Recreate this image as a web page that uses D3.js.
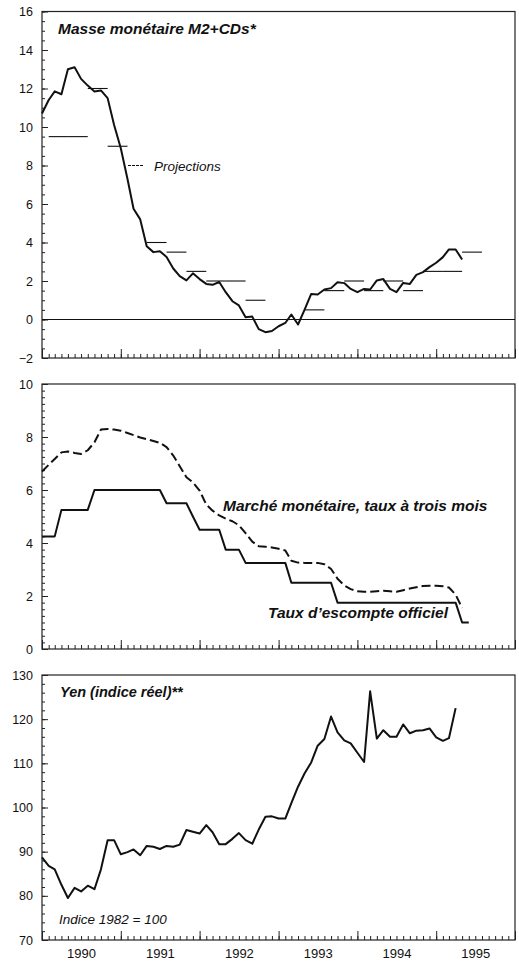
<!DOCTYPE html>
<meta charset="utf-8">
<style>
body { margin: 0; background: #fff; }
svg text { font-family: "Liberation Sans", Arial, Helvetica, sans-serif; fill: #111; }
.frame { fill: none; stroke: #222; stroke-width: 1.2px; }
.axis path { display: none; }
.axis line { stroke: #222; stroke-width: 1px; }
.axis text { font-size: 12.5px; }
.years text { font-size: 13px; }
.line { fill: none; stroke: #111; stroke-width: 2px; stroke-linejoin: round; }
.proj { stroke: #111; stroke-width: 1.1px; }
.title { font-size: 15.5px; font-weight: bold; font-style: italic; }
</style>
<body>
<script src="https://d3js.org/d3.v7.min.js"></script>
<script>

// monthly series, first value = January 1990
var m2Growth = [10.7, 11.4, 11.85, 11.7, 13.0, 13.1, 12.5, 12.15, 11.85, 11.9,
  11.5, 10.1, 8.9, 7.3, 5.75, 5.2, 3.8, 3.5, 3.55, 3.25,
  2.65, 2.25, 2.03, 2.4, 2.1, 1.85, 1.8, 1.95, 1.42, 0.95,
  0.73, 0.12, 0.15, -0.5, -0.66, -0.6, -0.35, -0.18, 0.26, -0.26,
  0.5, 1.33, 1.3, 1.56, 1.63, 1.94, 1.89, 1.59, 1.42, 1.59,
  1.56, 2.03, 2.1, 1.59, 1.42, 1.9, 1.85, 2.32, 2.46, 2.72,
  2.95, 3.24, 3.64, 3.64, 3.12];

// projections, one per quarter, quarters starting February 1990
var m2Projections = [9.5, 9.5, 12, 9, null, 4, 3.5, 2.5, 2, 2, 1, null,
  null, 0.5, 1.5, 2, 1.5, 2, 1.5, 2.5, 2.5, 3.5];

var discountRate = [4.25, 4.25, 4.25, 5.25, 5.25, 5.25, 5.25, 5.25, 6, 6,
  6, 6, 6, 6, 6, 6, 6, 6, 6, 5.5,
  5.5, 5.5, 5.5, 5, 4.5, 4.5, 4.5, 4.5, 3.75, 3.75,
  3.75, 3.25, 3.25, 3.25, 3.25, 3.25, 3.25, 3.25, 2.5, 2.5,
  2.5, 2.5, 2.5, 2.5, 2.5, 1.75, 1.75, 1.75, 1.75, 1.75,
  1.75, 1.75, 1.75, 1.75, 1.75, 1.75, 1.75, 1.75, 1.75, 1.75,
  1.75, 1.75, 1.75, 1.75, 1, 1];

var moneyMarket3m = [6.7, 6.95, 7.17, 7.42, 7.45, 7.4, 7.36, 7.5, 7.8, 8.28,
  8.3, 8.28, 8.24, 8.15, 8.07, 7.98, 7.92, 7.85, 7.78, 7.62,
  7.3, 6.9, 6.48, 6.29, 5.98, 5.45, 5.22, 5.04, 4.92, 4.82,
  4.67, 4.37, 4.05, 3.88, 3.86, 3.83, 3.78, 3.72, 3.33, 3.26,
  3.25, 3.25, 3.25, 3.2, 3.02, 2.65, 2.4, 2.26, 2.18, 2.16,
  2.16, 2.18, 2.2, 2.18, 2.16, 2.22, 2.28, 2.33, 2.38, 2.39,
  2.39, 2.37, 2.32, 2.05, 1.55];

var yenReal = [88.7, 86.8, 86.0, 82.5, 79.5, 81.8, 81.0, 82.3, 81.5, 86.0,
  92.6, 92.6, 89.4, 89.9, 90.5, 89.2, 91.3, 91.1, 90.6, 91.3,
  91.1, 91.6, 94.9, 94.5, 94.1, 96.0, 94.4, 91.7, 91.7, 92.9,
  94.2, 92.6, 91.8, 95.0, 97.9, 98.0, 97.5, 97.5, 101.0, 104.7,
  107.7, 110.2, 114.0, 115.5, 120.6, 117.0, 115.2, 114.5, 112.4, 110.3,
  126.3, 115.6, 117.5, 116.0, 116.0, 118.8, 116.8, 117.4, 117.5, 117.9,
  115.9, 115.1, 115.7, 122.5];

var yearLabels = ["1990", "1991", "1992", "1993", "1994", "1995"];

var width = 519, height = 961;
var left = 42, right = 515;

var svg = d3.select("body").append("svg")
    .attr("width", width)
    .attr("height", height);

var x = d3.scaleTime()
    .domain([new Date(1990, 0, 1), new Date(1996, 0, 1)])
    .range([left, right]);

function month(i) { return new Date(1990, i, 1); }

// draws frame, ticks and labels of one panel, returns its y scale
function panel(top, bottom, lo, hi, major, minor, showYears) {
  var y = d3.scaleLinear().domain([lo, hi]).range([bottom, top]);

  svg.append("rect").attr("class", "frame")
      .attr("x", left).attr("y", top)
      .attr("width", right - left).attr("height", bottom - top);

  // y ticks, inside the frame
  svg.append("g").attr("class", "axis")
      .attr("transform", "translate(" + left + ",0)")
      .call(d3.axisLeft(y).tickValues(d3.range(lo, hi + 0.001, minor))
        .tickSize(-3).tickSizeOuter(0).tickFormat(""));
  svg.append("g").attr("class", "axis")
      .attr("transform", "translate(" + left + ",0)")
      .call(d3.axisLeft(y).tickValues(d3.range(lo, hi + 0.001, major))
        .tickSize(-6).tickSizeOuter(0).tickPadding(9));

  // x ticks: months and years
  svg.append("g").attr("class", "axis")
      .attr("transform", "translate(0," + bottom + ")")
      .call(d3.axisBottom(x).ticks(d3.timeMonth.every(1))
        .tickSize(-4).tickSizeOuter(0).tickFormat(""));
  svg.append("g").attr("class", "axis")
      .attr("transform", "translate(0," + bottom + ")")
      .call(d3.axisBottom(x).ticks(d3.timeYear.every(1))
        .tickSize(-9).tickSizeOuter(0).tickFormat(""));

  if (showYears) {
    var mid = yearLabels.map(function(d) { return new Date(+d, 6, 1); });
    svg.append("g").attr("class", "axis years")
        .attr("transform", "translate(0," + bottom + ")")
        .call(d3.axisBottom(x).tickValues(mid).tickSize(0).tickPadding(9)
          .tickFormat(function(d, i) { return yearLabels[i]; }));
  }
  return y;
}

function drawLine(y, values, dash) {
  var line = d3.line()
      .x(function(d, i) { return x(month(i)); })
      .y(function(d) { return y(d); });
  var p = svg.append("path")
      .datum(values)
      .attr("class", "line")
      .attr("d", line);
  if (dash) p.style("stroke-dasharray", dash);
  return p;
}

// ---- top panel: M2+CDs
var y1 = panel(11.5, 358, -2, 16, 2, 0.5, false);

svg.append("line")
    .attr("x1", left).attr("x2", right)
    .attr("y1", y1(0)).attr("y2", y1(0))
    .attr("stroke", "#111").attr("stroke-width", 1.1);

// projection for each quarter (3 months wide)
m2Projections.forEach(function(d, q) {
  if (d == null) return;
  svg.append("line")
      .attr("class", "proj")
      .attr("x1", x(month(1 + 3 * q)))
      .attr("x2", x(month(4 + 3 * q)))
      .attr("y1", y1(d)).attr("y2", y1(d));
});

drawLine(y1, m2Growth);

svg.append("text").attr("class", "title")
    .attr("x", 58).attr("y", 34)
    .text("Masse monétaire M2+CDs*");

// legend for projections
svg.append("line")
    .attr("x1", 128).attr("x2", 143)
    .attr("y1", y1(8)).attr("y2", y1(8))
    .attr("stroke", "#111").attr("stroke-width", 1.1)
    .style("stroke-dasharray", "3,1");
svg.append("text")
    .attr("x", 154).attr("y", y1(8) + 5)
    .style("font-size", "13.5px").style("font-style", "italic")
    .text("Projections");

// ---- middle panel: interest rates
var y2 = panel(384, 649, 0, 10, 2, 0.25, false);

drawLine(y2, moneyMarket3m, "9,4");
drawLine(y2, discountRate);

svg.append("text").attr("class", "title")
    .attr("x", 223).attr("y", 511)
    .text("Marché monétaire, taux à trois mois");
svg.append("text").attr("class", "title")
    .attr("x", 268).attr("y", 618)
    .text("Taux d\u2019escompte officiel");

// ---- bottom panel: real yen
var y3 = panel(675, 940, 70, 130, 10, 2, true);

drawLine(y3, yenReal);

svg.append("text").attr("class", "title")
    .attr("x", 60).attr("y", 697)
    .style("font-size", "14.5px")
    .text("Yen (indice réel)**");
svg.append("text")
    .attr("x", 59).attr("y", 924)
    .style("font-size", "13.5px").style("font-style", "italic")
    .text("Indice 1982 = 100");

</script>
</body>
